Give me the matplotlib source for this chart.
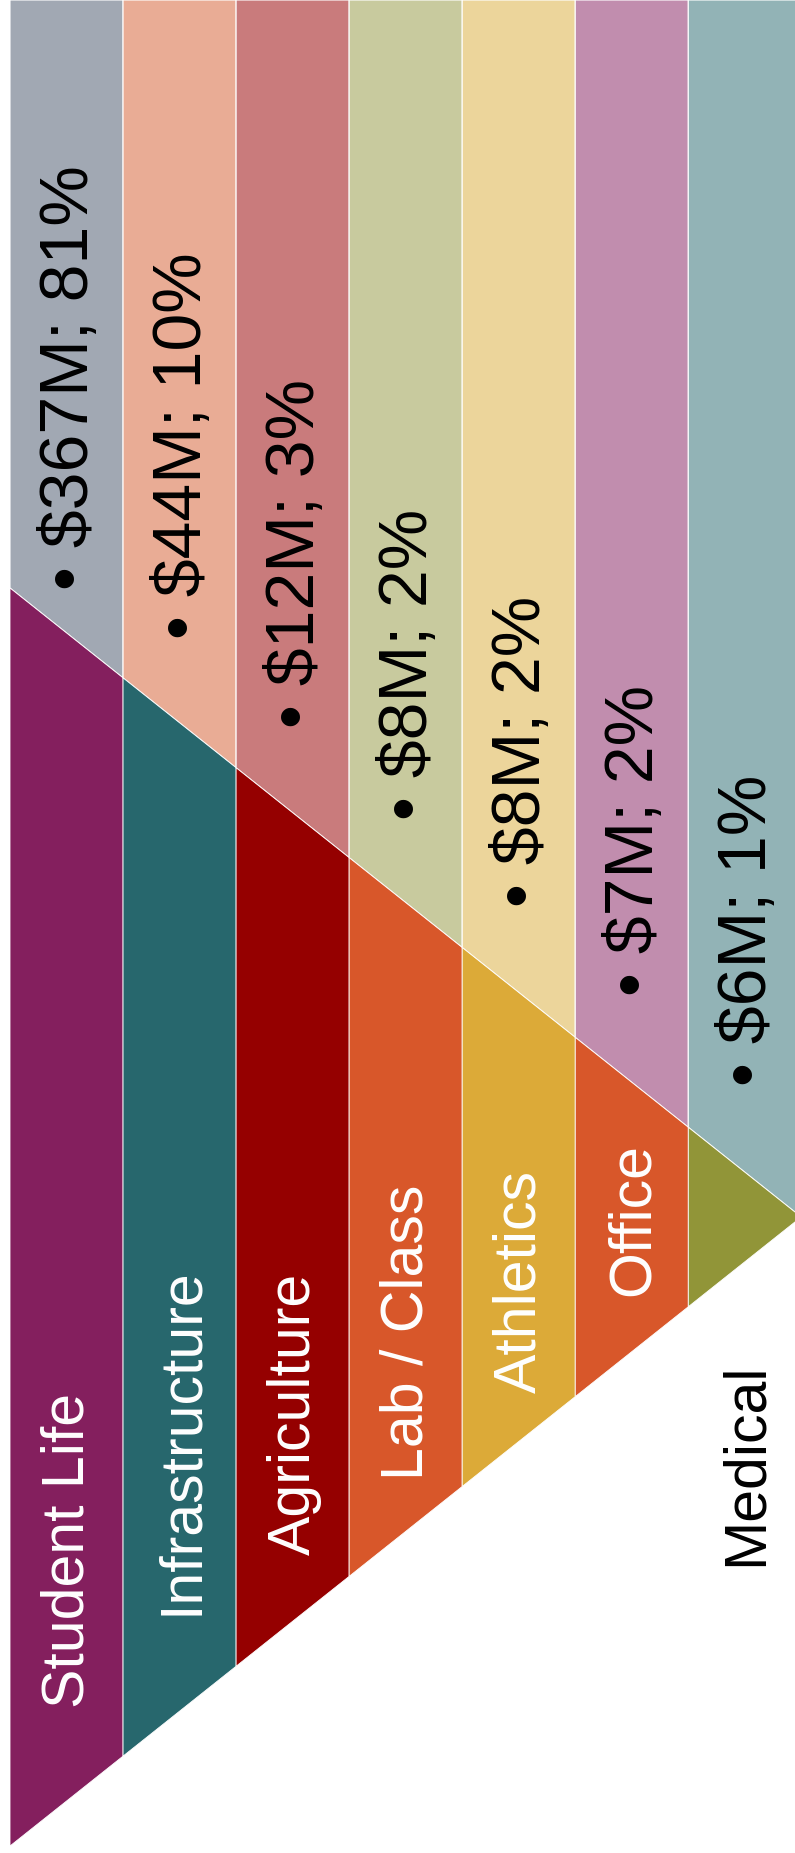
import matplotlib
matplotlib.use("Agg")
import matplotlib.pyplot as plt
from matplotlib.patches import Polygon

# ---- data ----
categories = ["Student Life", "Infrastructure", "Agriculture", "Lab / Class",
              "Athletics", "Office", "Medical"]
amounts_musd = [367, 44, 12, 8, 8, 7, 6]
percents = [81, 10, 3, 2, 2, 2, 1]
dark_colors = ["#841F5E", "#27676D", "#950000", "#D8572A",
               "#DCAA38", "#D8572A", "#919538"]
light_colors = ["#A1A8B3", "#E9AC95", "#C97B7C", "#C8CA9E",
                "#ECD59B", "#C18DAE", "#92B3B6"]

# ---- layout (pixel units) ----
W, H = 795, 1853
x_left = 10.0
col_w = 113.05
top_y0 = 588.0      # upper diagonal at x_left
bot_y0 = 1846.0     # lower diagonal at x_left
slope = 0.795

value_start_y = [590, 639, 728, 820, 907, 996, 1086]
cat_start_y = [1708, 1615, 1555, 1480, 1393, 1296, 1566]
cat_inside = [True, True, True, True, True, True, False]


def top(x):
    return top_y0 + slope * (x - x_left)


def bot(x):
    return bot_y0 - slope * (x - x_left)


fig = plt.figure(figsize=(W / 100, H / 100), dpi=100)
ax = fig.add_axes([0, 0, 1, 1])
ax.set_xlim(0, W)
ax.set_ylim(H, 0)
ax.axis("off")

font = "Liberation Sans"

for i, cat in enumerate(categories):
    x0 = x_left + i * col_w
    x1 = x0 + col_w
    light = Polygon([(x0, 0), (x1, 0), (x1, top(x1)), (x0, top(x0))],
                    closed=True, facecolor=light_colors[i],
                    edgecolor="white", linewidth=0.8)
    ax.add_patch(light)
    dark = Polygon([(x0, top(x0)), (x1, top(x1)), (x1, bot(x1)), (x0, bot(x0))],
                   closed=True, facecolor=dark_colors[i],
                   edgecolor="white", linewidth=0.6)
    ax.add_patch(dark)

    xc = x0 + col_w / 2
    ax.text(xc + 21, value_start_y[i],
            f"\u2022 ${amounts_musd[i]}M; {percents[i]}%",
            rotation=90, rotation_mode="anchor", ha="left", va="baseline",
            fontsize=49, color="black", family=font)
    ax.text(xc + 17, cat_start_y[i], cat,
            rotation=90, rotation_mode="anchor", ha="left", va="baseline",
            fontsize=42.5, color="white" if cat_inside[i] else "black",
            family=font)

fig.savefig("out.png", dpi=100, facecolor="white")
